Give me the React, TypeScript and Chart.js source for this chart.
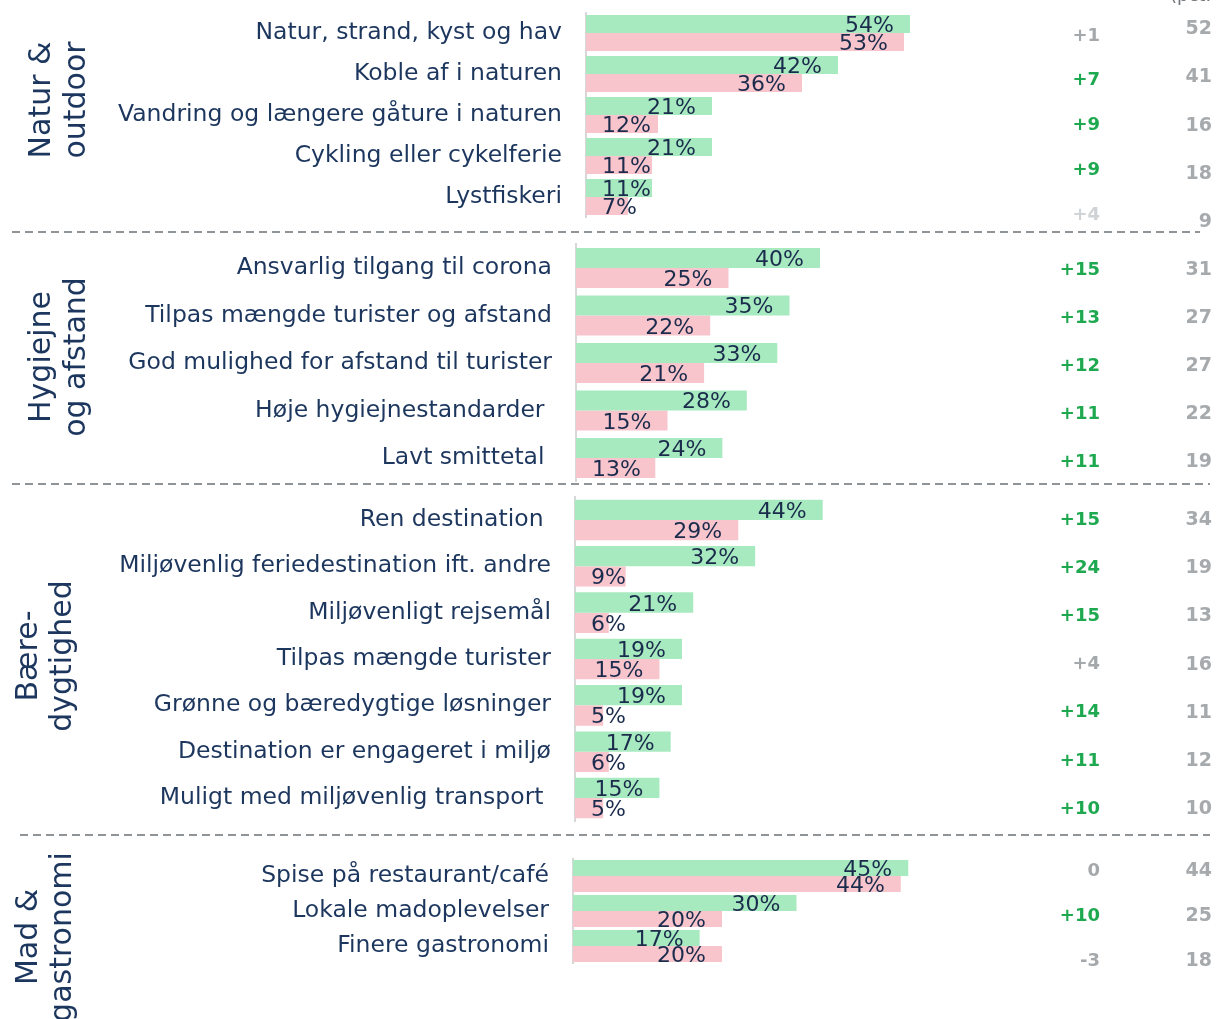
import React, { useEffect, useRef } from "react";
import { Chart, registerables } from "chart.js";

Chart.register(...registerables);

// ---------------- data ----------------
const natureTitle = ["Natur &", "outdoor"];
const natureLabels = [
  "Natur, strand, kyst og hav",
  "Koble af i naturen",
  "Vandring og længere gåture i naturen",
  "Cykling eller cykelferie",
  "Lystfiskeri",
];
const natureGreen = [54, 42, 21, 21, 11];
const naturePink = [53, 36, 12, 11, 7];
const natureDiff = ["+1", "+7", "+9", "+9", "+4"];
const natureTone = ["ns", "sig", "sig", "sig", "faint"];
const natureRef = [52, 41, 16, 18, 9];

const hygieneTitle = ["Hygiejne", "og afstand"];
const hygieneLabels = [
  "Ansvarlig tilgang til corona",
  "Tilpas mængde turister og afstand",
  "God mulighed for afstand til turister",
  "Høje hygiejnestandarder ",
  "Lavt smittetal ",
];
const hygieneGreen = [40, 35, 33, 28, 24];
const hygienePink = [25, 22, 21, 15, 13];
const hygieneDiff = ["+15", "+13", "+12", "+11", "+11"];
const hygieneTone = ["sig", "sig", "sig", "sig", "sig"];
const hygieneRef = [31, 27, 27, 22, 19];

const sustainTitle = ["Bære-", "dygtighed"];
const sustainLabels = [
  "Ren destination ",
  "Miljøvenlig feriedestination ift. andre",
  "Miljøvenligt rejsemål",
  "Tilpas mængde turister",
  "Grønne og bæredygtige løsninger",
  "Destination er engageret i miljø",
  "Muligt med miljøvenlig transport ",
];
const sustainGreen = [44, 32, 21, 19, 19, 17, 15];
const sustainPink = [29, 9, 6, 15, 5, 6, 5];
const sustainDiff = ["+15", "+24", "+15", "+4", "+14", "+11", "+10"];
const sustainTone = ["sig", "sig", "sig", "ns", "sig", "sig", "sig"];
const sustainRef = [34, 19, 13, 16, 11, 12, 10];

const foodTitle = ["Mad &", "gastronomi"];
const foodLabels = ["Spise på restaurant/café", "Lokale madoplevelser", "Finere gastronomi"];
const foodGreen = [45, 30, 17];
const foodPink = [44, 20, 20];
const foodDiff = ["0", "+10", "-3"];
const foodTone = ["ns", "sig", "ns"];
const foodRef = [44, 25, 18];

const unitNote = "(pct.-point)";

// ---------------- style ----------------
const W = 1216;
const H = 1019;
const XMAX = 60;
const FONT = "'DejaVu Sans', 'Open Sans', sans-serif";
const NAVY = "#1c365e";
const VALUE_TEXT = "#1a2b4c";
const GREEN_BAR = "#a7eac0";
const PINK_BAR = "#f9c5cd";
const TONES: Record<string, string> = { sig: "#1ea84f", ns: "#a4a8ab", faint: "#d0d3d5" };
const REF_GRAY = "#a6aaad";
const SEP_COLOR = "#8f9499";

type Layout = {
  baseline: number;
  pxPerPct: number;
  top: number;
  bottom: number;
  catPct: number;
  titleY: number;
  titleX: number[];
  diffY0: number;
  diffStep: number;
  refY0: number;
  refStep: number;
  sep: number[] | null; // [y, x0, x1]
  note: boolean;
};

type Group = {
  title: string[];
  labels: string[];
  green: number[];
  pink: number[];
  diff: string[];
  tone: string[];
  ref: number[];
  layout: Layout;
};

const groups: Group[] = [
  {
    title: natureTitle, labels: natureLabels, green: natureGreen, pink: naturePink,
    diff: natureDiff, tone: natureTone, ref: natureRef,
    layout: { baseline: 586, pxPerPct: 6.0, top: 12.5, bottom: 217.5, catPct: 0.88,
      titleY: 100, titleX: [50, 85], diffY0: 34, diffStep: 44.75, refY0: 27, refStep: 48.25,
      sep: [232, 12, 1200], note: true },
  },
  {
    title: hygieneTitle, labels: hygieneLabels, green: hygieneGreen, pink: hygienePink,
    diff: hygieneDiff, tone: hygieneTone, ref: hygieneRef,
    layout: { baseline: 576, pxPerPct: 6.1, top: 244.25, bottom: 481.75, catPct: 0.845,
      titleY: 357, titleX: [50, 85], diffY0: 268, diffStep: 48, refY0: 268, refStep: 48,
      sep: [484, 12, 1210], note: false },
  },
  {
    title: sustainTitle, labels: sustainLabels, green: sustainGreen, pink: sustainPink,
    diff: sustainDiff, tone: sustainTone, ref: sustainRef,
    layout: { baseline: 575, pxPerPct: 5.63, top: 496.8, bottom: 821.2, catPct: 0.876,
      titleY: 656, titleX: [37, 71], diffY0: 518, diffStep: 48.2, refY0: 518, refStep: 48.2,
      sep: [835, 20, 1210], note: false },
  },
  {
    title: foodTitle, labels: foodLabels, green: foodGreen, pink: foodPink,
    diff: foodDiff, tone: foodTone, ref: foodRef,
    layout: { baseline: 573, pxPerPct: 7.45, top: 858.5, bottom: 963.5, catPct: 0.914,
      titleY: 937, titleX: [37, 71], diffY0: 869, diffStep: 45, refY0: 869, refStep: 45,
      sep: null, note: false },
  },
];

const decorPlugin = {
  id: "decor",
  afterDatasetsDraw(chart: any, _args: any, opts: any) {
    const g: Group = opts.group;
    if (!g) return;
    const L = g.layout;
    const ctx: CanvasRenderingContext2D = chart.ctx;
    ctx.save();

    // value labels on bars
    ctx.font = `22px ${FONT}`;
    ctx.fillStyle = VALUE_TEXT;
    ctx.textAlign = "right";
    ctx.textBaseline = "alphabetic";
    chart.data.datasets.forEach((ds: any, di: number) => {
      const meta = chart.getDatasetMeta(di);
      meta.data.forEach((bar: any, i: number) => {
        const text = `${ds.data[i]}%`;
        const w = ctx.measureText(text).width;
        const p = bar.getProps(["x", "y", "base"], true);
        const right = Math.max(p.x - 16, p.base + 16 + w);
        ctx.fillText(text, right, p.y + 8);
      });
    });

    // difference column
    ctx.font = `bold 18px ${FONT}`;
    g.diff.forEach((d, i) => {
      ctx.fillStyle = TONES[g.tone[i]];
      ctx.fillText(d, 1100, L.diffY0 + i * L.diffStep + 6.5);
    });

    // reference column
    ctx.font = `bold 19px ${FONT}`;
    ctx.fillStyle = REF_GRAY;
    g.ref.forEach((r, i) => {
      ctx.fillText(String(r), 1212, L.refY0 + i * L.refStep + 7);
    });

    // group title (rotated)
    ctx.font = `30px ${FONT}`;
    ctx.fillStyle = NAVY;
    ctx.textAlign = "center";
    g.title.forEach((line, i) => {
      ctx.save();
      ctx.translate(L.titleX[i], L.titleY);
      ctx.rotate(-Math.PI / 2);
      ctx.fillText(line, 0, 0);
      ctx.restore();
    });

    // separator
    if (L.sep) {
      ctx.strokeStyle = SEP_COLOR;
      ctx.lineWidth = 2;
      ctx.setLineDash([8, 5]);
      ctx.beginPath();
      ctx.moveTo(L.sep[1], L.sep[0]);
      ctx.lineTo(L.sep[2], L.sep[0]);
      ctx.stroke();
      ctx.setLineDash([]);
    }

    if (L.note) {
      ctx.font = `18px ${FONT}`;
      ctx.fillStyle = "#6f7377";
      ctx.textAlign = "left";
      ctx.fillText(unitNote, 1170, 1);
    }
    ctx.restore();
  },
};

function GroupChart({ group }: { group: Group }) {
  const ref = useRef<HTMLCanvasElement>(null);
  useEffect(() => {
    const L = group.layout;
    const chart = new Chart(ref.current as HTMLCanvasElement, {
      type: "bar",
      data: {
        labels: group.labels,
        datasets: [
          { data: group.green, backgroundColor: GREEN_BAR, borderWidth: 0, barPercentage: 1, categoryPercentage: L.catPct },
          { data: group.pink, backgroundColor: PINK_BAR, borderWidth: 0, barPercentage: 1, categoryPercentage: L.catPct },
        ],
      },
      options: {
        indexAxis: "y",
        responsive: false,
        animation: false,
        devicePixelRatio: 1,
        events: [],
        layout: {
          padding: { left: 0, top: L.top, bottom: H - L.bottom, right: W - L.baseline - L.pxPerPct * XMAX },
        },
        plugins: {
          legend: { display: false },
          tooltip: { enabled: false },
          decor: { group },
        } as any,
        scales: {
          x: { display: false, min: 0, max: XMAX },
          y: {
            grid: { display: false, drawTicks: false },
            border: { display: true, color: "#d7d7d7", width: 2 },
            ticks: { color: NAVY, font: { family: FONT, size: 23.5 }, padding: 24, autoSkip: false },
            afterFit: (s: any) => {
              s.width = L.baseline;
              s.paddingTop = 0;
              s.paddingBottom = 0;
            },
          },
        },
      } as any,
      plugins: [decorPlugin],
    });
    return () => chart.destroy();
  }, [group]);
  return (
    <canvas
      ref={ref}
      width={W}
      height={H}
      style={{ position: "absolute", left: 0, top: 0, width: W, height: H }}
    />
  );
}

export default function App() {
  return (
    <div style={{ position: "fixed", left: 0, top: 0, width: W, height: H, background: "#ffffff", overflow: "hidden" }}>
      {groups.map((g, i) => (
        <GroupChart key={i} group={g} />
      ))}
    </div>
  );
}
